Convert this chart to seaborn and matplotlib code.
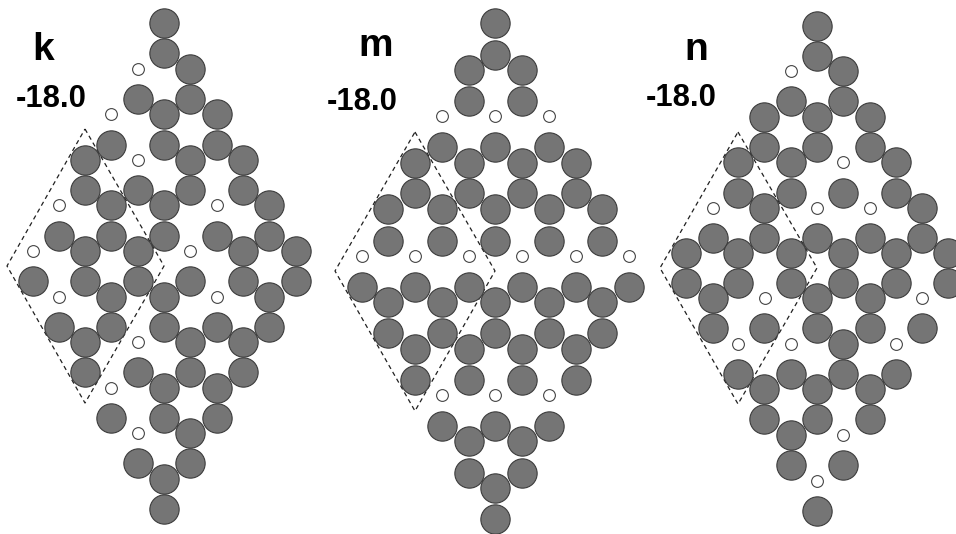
import matplotlib
matplotlib.use("Agg")
import matplotlib.pyplot as plt
import pandas as pd
import seaborn as sns

sns.set_theme(style="white")
plt.rcParams['font.family'] = ['Liberation Sans', 'DejaVu Sans']

panel_labels = ["k", "m", "n"]
panel_values = ["-18.0", "-18.0", "-18.0"]

# Each row: level on the vertical scale, occupied sites, vacant sites
k_levels = [23, 53, 69, 99, 114, 145, 160, 190, 205, 236, 251, 281, 297, 327, 342, 372, 388, 418, 433, 463, 479, 509]
k_filled = [[164], [164], [190], [138, 190], [164, 217], [111, 164, 217], [85, 190, 243],
            [85, 138, 190, 243], [111, 164, 269], [59, 111, 164, 217, 269], [85, 138, 243, 296],
            [33, 85, 138, 190, 243, 296], [111, 164, 269], [59, 111, 164, 217, 269], [85, 190, 243],
            [85, 138, 190, 243], [164, 217], [111, 164, 217], [190], [138, 190], [164], [164]]
k_open = [[], [], [138], [], [111], [], [138], [], [59, 217], [], [33, 190], [], [59, 217], [],
          [138], [], [111], [], [138], [], [], []]

m_levels = [23, 55, 70, 101, 116, 147, 163, 193, 209, 241, 256, 287, 302, 333, 349, 380, 395, 426, 441, 473, 488, 519]
m_filled = [[495], [495], [469, 522], [469, 522], [], [442, 495, 549], [415, 469, 522, 576],
            [415, 469, 522, 576], [388, 442, 495, 549, 602], [388, 442, 495, 549, 602], [],
            [362, 415, 469, 522, 576, 629], [388, 442, 495, 549, 602], [388, 442, 495, 549, 602],
            [415, 469, 522, 576], [415, 469, 522, 576], [], [442, 495, 549], [469, 522], [469, 522],
            [495], [495]]
m_open = [[], [], [], [], [442, 495, 549], [], [], [], [], [], [362, 415, 469, 522, 576, 629],
          [], [], [], [], [], [442, 495, 549], [], [], [], [], []]

n_levels = [26, 56, 71, 101, 117, 147, 162, 193, 208, 238, 253, 283, 298, 328, 344, 374, 389, 419, 435, 465, 481, 511]
n_filled = [[817], [817], [843], [791, 843], [764, 817, 870], [764, 817, 870], [738, 791, 896],
            [738, 791, 843, 896], [764, 922], [713, 764, 817, 870, 922],
            [686, 738, 791, 843, 896, 948], [686, 738, 791, 843, 896, 948], [713, 817, 870],
            [713, 764, 817, 870, 922], [843], [738, 791, 843, 896], [764, 817, 870], [764, 817, 870],
            [791], [791, 843], [], [817]]
n_open = [[], [], [791], [], [], [], [843], [], [713, 817, 870], [], [], [], [765, 922], [],
          [738, 791, 896], [], [], [], [843], [], [817], []]

# Dashed unit cells: top, right, bottom, left
k_cell_x = [85, 164, 85, 7, 85]
k_cell_y = [129, 266, 403, 266, 129]
m_cell_x = [415, 495, 415, 335, 415]
m_cell_y = [132, 271, 411, 271, 132]
n_cell_x = [738, 817, 738, 660, 738]
n_cell_y = [132, 268, 404, 268, 132]


def table(levels, rows):
    return pd.DataFrame([(x, y) for y, xs in zip(levels, rows) for x in xs], columns=["x", "y"])


filled = pd.concat([table(k_levels, k_filled), table(m_levels, m_filled), table(n_levels, n_filled)])
vacant = pd.concat([table(k_levels, k_open), table(m_levels, m_open), table(n_levels, n_open)])

fig = plt.figure(figsize=(9.56, 5.34), dpi=100)
ax = fig.add_axes([0, 0, 1, 1])

for cx, cy in [(k_cell_x, k_cell_y), (m_cell_x, m_cell_y), (n_cell_x, n_cell_y)]:
    ax.plot(cx, cy, color="#202020", lw=0.9, ls=(0, (3.5, 2.8)), zorder=1)

sns.scatterplot(data=filled, x="x", y="y", s=445, color="#757575", edgecolor="#3c3c3c",
                linewidth=0.8, ax=ax, zorder=2, legend=False)
sns.scatterplot(data=vacant, x="x", y="y", s=72, color="white", edgecolor="#454545",
                linewidth=0.8, ax=ax, zorder=2, legend=False)

ax.set_xlim(0, 956)
ax.set_ylim(534, 0)
ax.set_axis_off()

label_pos = [(32, 60), (358, 56), (684, 60)]
value_pos = [(16, 107), (327, 110), (646, 106)]
for lab, (x, y) in zip(panel_labels, label_pos):
    ax.text(x, y, lab, fontsize=28, fontweight="bold", color="black", ha="left", va="baseline")
for val, (x, y) in zip(panel_values, value_pos):
    ax.text(x, y, val, fontsize=22.3, fontweight="bold", color="black", ha="left", va="baseline")

fig.savefig("out.png", dpi=100, facecolor="white")
